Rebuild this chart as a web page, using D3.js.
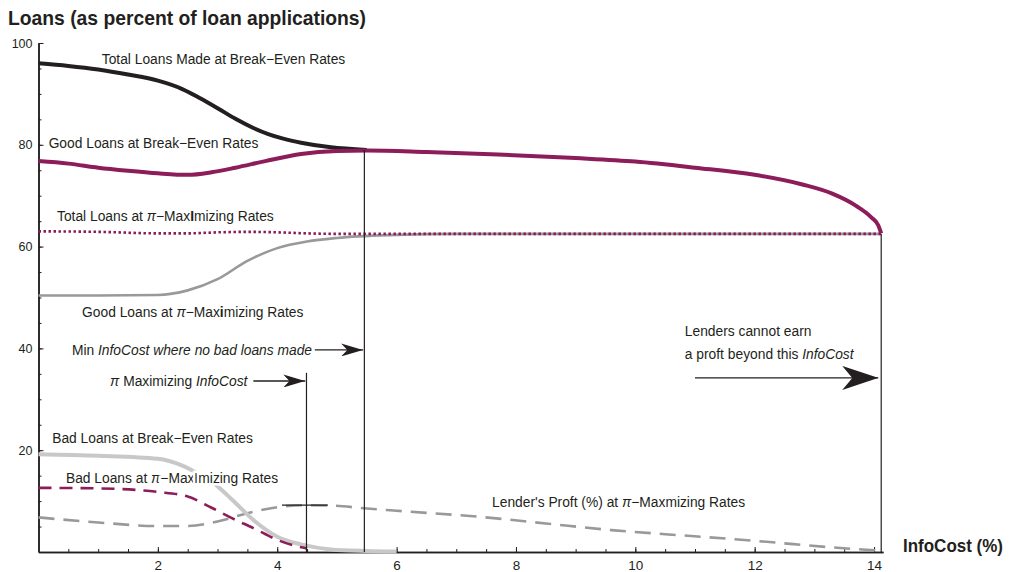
<!DOCTYPE html>
<html>
<head>
<meta charset="utf-8">
<script src="https://cdn.jsdelivr.net/npm/d3@7"></script>
<style>
  body { margin: 0; background: #fff; }
  text { font-family: "Liberation Sans", Arial, sans-serif; }
</style>
</head>
<body>
<script>
// Chart size and plot box
const WIDTH  = 1009;
const HEIGHT = 572;
const LEFT   = 38.5;
const RIGHT  = 883;
const TOP    = 43;
const BOTTOM = 552;

// Tick values
const xTicks      = [2, 4, 6, 8, 10, 12, 14];
const xMinorTicks = d3.range(0.5, 14.1, 0.5);
const yTicks      = [20, 40, 60, 80, 100];
const yMinorTicks = d3.range(5, 100, 5);

// Series as [InfoCost %, loans %]
const totalBreakEven = [[0,96.0],[0.5,95.5],[1,94.8],[1.5,93.8],[2,92.6],[2.4,91.0],[2.7,89.2],[3,87.2],
  [3.3,85.1],[3.6,83.3],[3.85,82.1],[4.1,81.2],[4.4,80.4],[4.9,79.5],[5.5,79.0]];
const goodBreakEven = [[0,76.8],[0.5,76.3],[1,75.5],[1.5,74.9],[2,74.4],[2.5,74.1],[2.9,74.6],[3.3,75.5],
  [3.8,76.8],[4.4,78.2],[5,78.8],[5.5,78.9],[6.5,78.6],[7.7,78.1],[9,77.4],[10,76.7],[11,75.5],
  [12,74.1],[12.8,72.2],[13.3,70.4],[13.7,68.0],[13.95,65.8],[14.07,64.2],[14.12,62.6]];
const totalPiMax = [[0,63.0],[1,62.9],[2,62.6],[2.5,62.6],[3,62.8],[3.5,62.9],[4,62.8],[4.5,62.6],
  [5,62.5],[8,62.5],[11,62.5],[14.12,62.5]];
const goodPiMax = [[0,50.4],[1,50.4],[2,50.5],[2.5,51.4],[3,53.6],[3.5,57.2],[4,59.7],[4.5,61.0],
  [5,61.7],[6,62.3],[7,62.5],[10,62.5],[14.12,62.5]];
const badBreakEven = [[0,19.2],[1,18.9],[2,18.3],[2.4,17.0],[2.7,15.2],[2.95,13.4],[3.25,10.2],
  [3.6,6.3],[4,3.0],[4.4,1.5],[4.9,0.5],[5.5,0.2],[6,0.1]];
const badPiMax = [[0,12.6],[1,12.5],[2,11.8],[2.5,10.9],[2.9,8.7],[3.25,6.6],[3.6,4.7],[4,2.4],
  [4.3,1.2],[4.5,0.7]];
const lenderProfit = [[0,6.8],[1,5.8],[2,5.1],[2.5,5.1],[3,6.0],[3.5,7.6],[4,8.8],[4.45,9.2],
  [4.95,9.1],[5.45,8.6],[6,8.1],[7.4,6.9],[8.5,5.6],[9.6,4.3],[10.5,3.5],[11.1,3.0],[12.2,2.0],
  [13.3,0.9],[13.8,0.5],[14.1,0.3]];

// Marker lines (InfoCost values)
const piMaxInfoCost   = 4.49;
const noBadInfoCost   = 5.46;
const zeroProfitCost  = 14.12;

const svg = d3.select("body").append("svg")
  .attr("width", WIDTH)
  .attr("height", HEIGHT);

const x = d3.scaleLinear().domain([0, 14.15]).range([LEFT, RIGHT]);
const y = d3.scaleLinear().domain([0, 100]).range([BOTTOM, TOP]);

// Arrow heads
const defs = svg.append("defs");
function addMarker(id, len, half) {
  defs.append("marker")
    .attr("id", id)
    .attr("viewBox", `0 ${-half} ${len} ${half * 2}`)
    .attr("refX", len).attr("refY", 0)
    .attr("markerUnits", "userSpaceOnUse")
    .attr("markerWidth", len).attr("markerHeight", half * 2)
    .attr("orient", "auto")
    .append("path")
      .attr("d", `M0,${-half}L${len},0L0,${half}L${len * 0.28},0Z`)
      .attr("fill", "#231f20");
}
addMarker("arrowSmall", 22, 6.5);
addMarker("arrowBig", 36, 12);

// Title (condensed look via textLength)
svg.append("text")
  .attr("x", 8).attr("y", 25)
  .attr("textLength", 358)
  .attr("lengthAdjust", "spacingAndGlyphs")
  .style("font-weight", "bold")
  .style("font-size", "21px")
  .attr("fill", "#231f20")
  .text("Loans (as percent of loan applications)");

svg.append("text")
  .attr("x", 903).attr("y", 552)
  .attr("textLength", 100)
  .attr("lengthAdjust", "spacingAndGlyphs")
  .style("font-weight", "bold")
  .style("font-size", "18px")
  .attr("fill", "#231f20")
  .text("InfoCost (%)");

// Axes - ticks point inwards
const xAxisG = svg.append("g").attr("transform", `translate(0,${BOTTOM})`);
xAxisG.call(d3.axisBottom(x).tickValues(xTicks).tickSize(-5).tickPadding(8).tickSizeOuter(0));
xAxisG.append("g").call(d3.axisBottom(x).tickValues(xMinorTicks).tickSize(-3).tickFormat("").tickSizeOuter(0));
xAxisG.selectAll("text").style("font-size", "13.5px").attr("fill", "#231f20");

const yAxisG = svg.append("g").attr("transform", `translate(${LEFT},0)`);
yAxisG.call(d3.axisLeft(y).tickValues(yTicks).tickSize(-5).tickPadding(6).tickSizeOuter(0));
yAxisG.append("g").call(d3.axisLeft(y).tickValues(yMinorTicks).tickSize(-3).tickFormat("").tickSizeOuter(0));
yAxisG.selectAll("text").style("font-size", "12.5px").attr("fill", "#231f20");

svg.selectAll(".domain").attr("stroke", "#231f20").attr("stroke-width", 1.5);
svg.selectAll(".tick line").attr("stroke", "#231f20");

const line = d3.line()
  .x(d => x(d[0]))
  .y(d => y(d[1]))
  .curve(d3.curveMonotoneX);

function drawSeries(data, color, width, dash) {
  svg.append("path")
    .datum(data)
    .attr("d", line)
    .attr("fill", "none")
    .attr("stroke", color)
    .attr("stroke-width", width)
    .attr("stroke-dasharray", dash || null);
}

// Vertical marker lines
function vLine(xv, yTopVal) {
  svg.append("line")
    .attr("x1", x(xv)).attr("x2", x(xv))
    .attr("y1", y(yTopVal)).attr("y2", y(0))
    .attr("stroke", "#231f20").attr("stroke-width", 1.2);
}

drawSeries(lenderProfit, "#999999", 2.6, "16,9");
drawSeries(badBreakEven, "#c8c8c8", 4);
drawSeries(badPiMax, "#8c1c5a", 2.6, "13,8");
drawSeries(goodPiMax, "#999999", 2.6);
drawSeries(totalPiMax, "#8c1c5a", 2.6, "2.5,2.5");
drawSeries(totalBreakEven, "#231f20", 4);
drawSeries(goodBreakEven, "#8c1c5a", 4);

vLine(piMaxInfoCost, 35.2);
vLine(noBadInfoCost, 79.0);
vLine(zeroProfitCost, 62.5);

// small horizontal tick at max profit
svg.append("line")
  .attr("x1", x(4.08)).attr("x2", x(4.85))
  .attr("y1", y(9.2)).attr("y2", y(9.2))
  .attr("stroke", "#231f20").attr("stroke-width", 1.2);

// Annotation arrows
function arrow(x1, x2, yv, marker) {
  svg.append("line")
    .attr("x1", x(x1)).attr("x2", x(x2))
    .attr("y1", y(yv)).attr("y2", y(yv))
    .attr("stroke", "#231f20").attr("stroke-width", 1.3)
    .attr("marker-end", `url(#${marker})`);
}
arrow(4.63, 5.44, 39.7, "arrowSmall");
arrow(3.6, 4.47, 33.6, "arrowSmall");
arrow(11.0, 14.07, 34.2, "arrowBig");

// Labels - plain strings, or arrays of [text, style] pieces
function label(xv, yv, parts, halo) {
  const t = svg.append("text")
    .attr("x", x(xv)).attr("y", y(yv))
    .style("font-size", "13.8px")
    .attr("fill", "#231f20");
  if (halo) t.attr("stroke", "#fff").attr("stroke-width", 5).attr("paint-order", "stroke");
  if (typeof parts === "string") parts = [[parts]];
  parts.forEach(p => {
    const s = t.append("tspan").text(p[0]);
    if (p[1] === "i") s.style("font-style", "italic");
    if (p[1] === "b") s.style("font-weight", "bold");
  });
}

label(1.06, 95.9, "Total Loans Made at Break\u2212Even Rates");
label(0.17, 79.4, "Good Loans at Break\u2212Even Rates");
label(0.31, 65.0, [["Total Loans at "], ["\u03c0", "i"], ["\u2212Max"], ["I", "b"], ["mizing Rates"]]);
label(0.73, 46.2, [["Good Loans at "], ["\u03c0", "i"], ["\u2212Max"], ["i", "b"], ["mizing Rates"]]);
label(0.56, 38.7, [["Min "], ["InfoCost where no bad loans made", "i"]]);
label(1.2, 32.7, [["\u03c0", "i"], [" Maximizing "], ["InfoCost", "i"]]);
label(0.23, 21.5, "Bad Loans at Break\u2212Even Rates");
label(0.46, 13.6, [["Bad Loans at "], ["\u03c0", "i"], ["\u2212Max"], ["I", "b"], ["mizing Rates"]], true);
label(7.6, 8.9, [["Lender's Proft (%) at "], ["\u03c0", "i"], ["\u2212Maxmizing Rates"]]);
label(10.83, 42.4, "Lenders cannot earn");
label(10.83, 37.9, [["a proft beyond this "], ["InfoCost", "i"]]);
</script>
</body>
</html>
